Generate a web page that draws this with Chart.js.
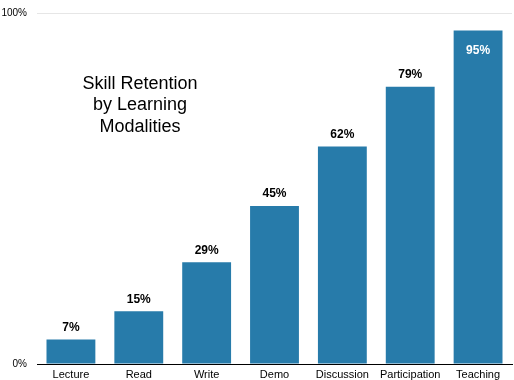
<!DOCTYPE html>
<html><head><meta charset="utf-8">
<script src="https://cdn.jsdelivr.net/npm/chart.js@4/dist/chart.umd.min.js"></script>
<style>html,body{margin:0;padding:0;background:#fff}#w{width:514px;height:380px}</style>
</head><body><div id="w"><canvas id="c"></canvas></div>
<script>
const categories = ["Lecture","Read","Write","Demo","Discussion","Participation","Teaching"];
const retention = [7,15,29,45,62,79,95];
const yTicks = [0,100];
const titleLines = ["Skill Retention","by Learning","Modalities"];

const FONT = "'Liberation Sans', Arial, Helvetica, sans-serif";

const labelPlugin = {
  id: 'lbl',
  afterDatasetsDraw(chart) {
    const ctx = chart.ctx;
    const meta = chart.getDatasetMeta(0);
    ctx.save();
    ctx.font = "bold 12px " + FONT;
    ctx.textAlign = 'center';
    ctx.textBaseline = 'middle';
    meta.data.forEach((bar, i) => {
      const v = retention[i];
      if (v >= 90) {
        ctx.fillStyle = '#ffffff';
        ctx.fillText(v + '%', bar.x, bar.y + 20);
      } else {
        ctx.fillStyle = '#000000';
        ctx.fillText(v + '%', bar.x, bar.y - 12);
      }
    });
    ctx.font = "18px " + FONT;
    ctx.fillStyle = '#000';
    titleLines.forEach((t, i) => ctx.fillText(t, 140, 84 + i * 21.5));
    ctx.restore();
  }
};

new Chart(document.getElementById('c'), {
  type: 'bar',
  data: {
    labels: categories,
    datasets: [{
      data: retention,
      backgroundColor: '#277BAA',
      categoryPercentage: 1,
      barPercentage: 0.72
    }]
  },
  options: {
    responsive: true,
    maintainAspectRatio: false,
    animation: false,
    layout: { padding: { top: 13, right: 2, left: 0, bottom: 0 } },
    plugins: { legend: { display: false }, tooltip: { enabled: false } },
    scales: {
      x: {
        grid: { display: false, drawTicks: false, tickLength: 0 },
        border: { display: true, color: '#000', width: 1 },
        ticks: { color: '#000', font: { family: FONT, size: 11 }, padding: 4, maxRotation: 0, autoSkip: false },
        afterFit(s) { s.height = 16; s.paddingLeft = 0; s.paddingRight = 0; s.paddingTop = 0; s.paddingBottom = 0; }
      },
      y: {
        min: 0, max: 100,
        afterBuildTicks(s) { s.ticks = yTicks.map(v => ({ value: v })); },
        grid: { color: '#e6e6e6', drawTicks: false },
        border: { display: false },
        ticks: { color: '#000', font: { family: FONT, size: 10 }, padding: 10, callback: v => v + '%' },
        afterFit(s) { s.width = 37; s.paddingTop = 0; s.paddingBottom = 0; s.paddingLeft = 0; s.paddingRight = 0; }
      }
    }
  },
  plugins: [labelPlugin]
});
</script>
</body></html>
